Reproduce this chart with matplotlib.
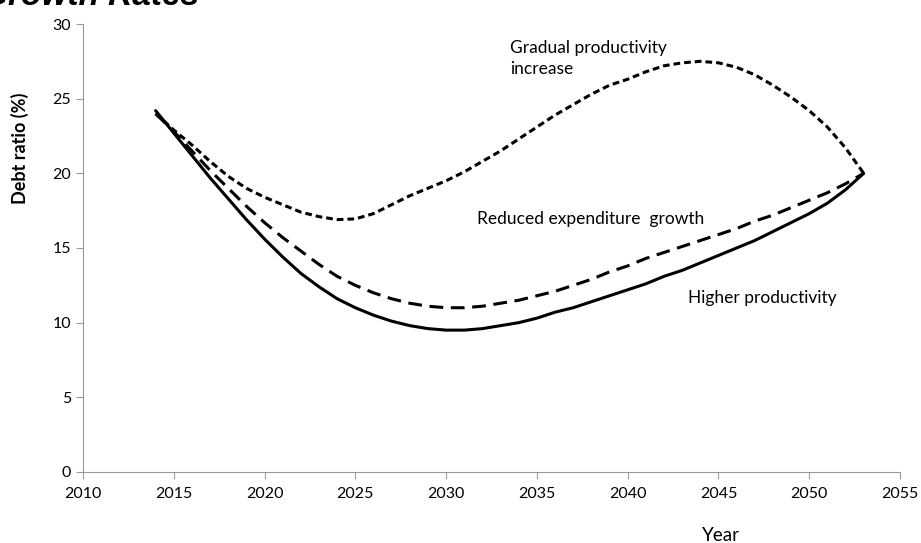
import matplotlib.pyplot as plt

plt.rcParams['font.family'] = ['Lato', 'DejaVu Sans']

# data
years = [2014, 2015, 2016, 2017, 2018, 2019, 2020, 2021, 2022, 2023, 2024, 2025,
         2026, 2027, 2028, 2029, 2030, 2031, 2032, 2033, 2034, 2035, 2036, 2037,
         2038, 2039, 2040, 2041, 2042, 2043, 2044, 2045, 2046, 2047, 2048, 2049,
         2050, 2051, 2052, 2053]
higher_prod = [24.2, 22.7, 21.2, 19.7, 18.3, 16.9, 15.6, 14.4, 13.3, 12.4, 11.6, 11.0,
               10.5, 10.1, 9.8, 9.6, 9.5, 9.5, 9.6, 9.8, 10.0, 10.3, 10.7, 11.0,
               11.4, 11.8, 12.2, 12.6, 13.1, 13.5, 14.0, 14.5, 15.0, 15.5, 16.1, 16.7,
               17.3, 18.0, 18.9, 20.0]
reduced_exp = [24.0, 22.8, 21.5, 20.2, 19.0, 17.8, 16.7, 15.7, 14.8, 13.9, 13.1, 12.5,
               12.0, 11.6, 11.3, 11.1, 11.0, 11.0, 11.1, 11.3, 11.5, 11.8, 12.1, 12.5,
               12.9, 13.4, 13.8, 14.3, 14.7, 15.1, 15.5, 15.9, 16.3, 16.8, 17.2, 17.7,
               18.2, 18.7, 19.3, 20.0]
gradual_prod = [24.0, 22.9, 21.9, 20.8, 19.8, 19.0, 18.4, 17.9, 17.4, 17.1, 16.9, 16.95,
                17.3, 17.9, 18.5, 19.0, 19.5, 20.1, 20.8, 21.5, 22.3, 23.1, 23.9, 24.6,
                25.3, 25.9, 26.3, 26.8, 27.2, 27.4, 27.5, 27.4, 27.1, 26.6, 25.9, 25.1,
                24.2, 23.1, 21.7, 20.0]

fig = plt.figure(figsize=(9.21, 5.43), dpi=100)
ax = fig.add_axes([0.0901, 0.1308, 0.8871, 0.825])

ax.plot(years, higher_prod, color='black', lw=2.2, solid_capstyle='round')
ax.plot(years, reduced_exp, color='black', lw=2.2, dashes=(4.5, 2.5))
ax.plot(years, gradual_prod, color='black', lw=2.2, dashes=(2.2, 1.3))

ax.text(2033.5, 27.7, 'Gradual productivity\nincrease', fontsize=12.5,
        va='center', ha='left', linespacing=1.4)
ax.text(2031.7, 16.95, 'Reduced expenditure  growth', fontsize=12.5, va='center')
ax.text(2043.3, 11.65, 'Higher productivity', fontsize=12.5, va='center')

ax.set_xlim(2010, 2055)
ax.set_ylim(0, 30)
ax.set_xticks(range(2010, 2056, 5))
ax.set_yticks(range(0, 31, 5))
for s in ['top', 'right']:
    ax.spines[s].set_visible(False)
for s in ['left', 'bottom']:
    ax.spines[s].set_color('#999999')
ax.tick_params(colors='#999999', labelcolor='black', labelsize=11.5, length=5)
ax.tick_params(axis='x', pad=6)

fig.text(0.783, 0.0147, 'Year', fontsize=13.5, ha='center', va='center')
fig.text(0.022, 0.727, 'Debt ratio (%)', fontsize=13, fontweight='bold',
         rotation=90, ha='center', va='center')
fig.text(-0.02, 0.9908, 'Growth Rates', fontsize=24, fontweight='bold',
         style='italic', family='Liberation Sans', ha='left', va='baseline')

fig.savefig('out.png', dpi=100)
